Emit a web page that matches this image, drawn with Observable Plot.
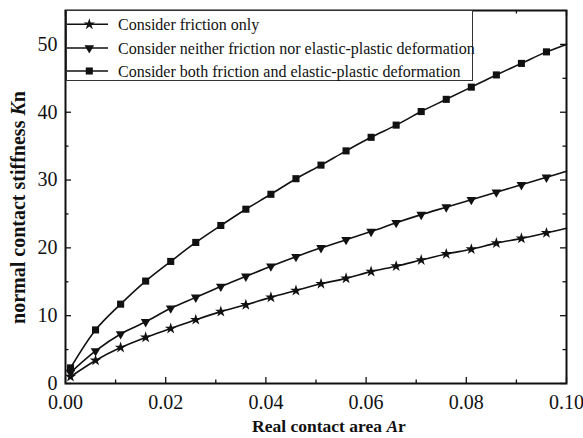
<!DOCTYPE html>
<html><head><meta charset="utf-8">
<script src="https://cdn.jsdelivr.net/npm/d3@7"></script>
<script src="https://cdn.jsdelivr.net/npm/@observablehq/plot@0.6"></script>
<style>
body{margin:0;background:#fff;}
#wrap{width:583px;height:438px;}
</style></head><body><div id="wrap"></div>
<script>
// Real contact area Ar (markers at all but the last point; the last is the line end)
const area = [0.001,0.006,0.011,0.016,0.021,0.026,0.031,0.036,0.041,0.046,0.051,0.056,0.061,0.066,0.071,0.076,0.081,0.086,0.091,0.096,0.100];
const seriesNames = [
  "Consider friction only",
  "Consider neither friction nor elastic-plastic deformation",
  "Consider both friction and elastic-plastic deformation"
];
const frictionOnly = [1.0,3.4,5.3,6.8,8.1,9.4,10.6,11.6,12.7,13.7,14.7,15.5,16.5,17.3,18.2,19.1,19.8,20.7,21.4,22.2,22.9];
const neither      = [1.6,4.8,7.3,9.1,11.1,12.7,14.3,15.8,17.3,18.7,20.0,21.2,22.4,23.7,24.9,26.0,27.1,28.2,29.3,30.4,31.3];
const both         = [2.3,7.9,11.7,15.1,18.0,20.8,23.3,25.7,27.9,30.2,32.2,34.3,36.3,38.1,40.1,41.9,43.7,45.5,47.2,48.9,50.0];
const xTickLabels = [0, 0.02, 0.04, 0.06, 0.08, 0.10];
const xMinorTicks = [0.01, 0.03, 0.05, 0.07, 0.09];
const yTickLabels = [0, 10, 20, 30, 40, 50];
const yMinorTicks = [5, 15, 25, 35, 45];

const seriesValues = [frictionOnly, neither, both];
const rows = [];
seriesValues.forEach((vals, si) => vals.forEach((v, j) => rows.push({
  series: seriesNames[si], si, x: area[j], y: v, marker: j < area.length - 1
})));

const ink = "#111";
const symDefs = [
  {symbol: "star", r: 3.6, rotate: 0, d3sym: d3.symbolStar},
  {symbol: "triangle", r: 3.6, rotate: 180, d3sym: d3.symbolTriangle},
  {symbol: "square", r: 4.0, rotate: 0, d3sym: d3.symbolSquare}
];

const serif = "'Liberation Serif','Times New Roman',Times,serif";
const W = 583, H = 438, mL = 65, mR = 17, mT = 10, mB = 55;
const plotW = W - mL - mR, plotH = H - mT - mB;
const major = 6, minor = 3.5;

const xTicks = (ticks, len) => [
  Plot.ruleX(ticks, {x: d => d, insetTop: plotH - len, stroke: ink, strokeWidth: 1.3}),
  Plot.ruleX(ticks, {x: d => d, insetBottom: plotH - len, stroke: ink, strokeWidth: 1.3})
];
const yTicks = (ticks, len) => [
  Plot.ruleY(ticks, {y: d => d, insetRight: plotW - len, stroke: ink, strokeWidth: 1.3}),
  Plot.ruleY(ticks, {y: d => d, insetLeft: plotW - len, stroke: ink, strokeWidth: 1.3})
];

const chart = Plot.plot({
  width: W, height: H,
  marginLeft: mL, marginRight: mR, marginTop: mT, marginBottom: mB,
  style: {fontFamily: serif, fontSize: "20px", color: ink, background: "white", overflow: "visible"},
  x: {domain: [0, 0.1]},
  y: {domain: [0, 55]},
  marks: [
    Plot.line(rows, {x: "x", y: "y", z: "series", curve: "catmull-rom", stroke: ink, strokeWidth: 1.6}),
    ...symDefs.map((s, i) => Plot.dot(rows.filter(d => d.marker && d.si === i), {
      x: "x", y: "y", symbol: s.symbol, r: s.r, rotate: s.rotate, fill: ink, stroke: "none"
    })),
    // tick labels
    Plot.axisX({ticks: xTickLabels, tickSize: 0, tickPadding: 11, tickFormat: d3.format(".2f"), fontSize: 20, label: null}),
    Plot.axisY({ticks: yTickLabels, tickSize: 0, tickPadding: 8, tickFormat: d3.format("d"), fontSize: 20, label: null}),
    // inward ticks on all four sides
    ...xTicks(xTickLabels, major), ...xTicks(xMinorTicks, minor),
    ...yTicks(yTickLabels, major), ...yTicks(yMinorTicks, minor),
    Plot.frame({stroke: ink, strokeWidth: 2})
  ]
});

document.getElementById("wrap").appendChild(chart);

const svg = d3.select(chart);

// axis titles
const xt = svg.append("text")
  .attr("x", 329).attr("y", 432)
  .attr("text-anchor", "middle")
  .attr("font-family", serif).attr("font-weight", "bold").attr("font-size", 17.5).attr("fill", ink);
xt.append("tspan").text("Real contact area ");
xt.append("tspan").attr("font-style", "italic").text("A");
xt.append("tspan").text("r");

const yt = svg.append("text")
  .attr("transform", "translate(25,207.5) rotate(-90)")
  .attr("text-anchor", "middle")
  .attr("font-family", serif).attr("font-weight", "bold").attr("font-size", 20).attr("fill", ink);
yt.append("tspan").text("normal contact stiffness ");
yt.append("tspan").attr("font-style", "italic").text("K");
yt.append("tspan").text("n");

// legend
const lg = svg.append("g").attr("transform", "translate(66,10)");
lg.append("rect").attr("x", 0.5).attr("y", 0.5).attr("width", 406).attr("height", 70)
  .attr("fill", "white").attr("stroke", "#333").attr("stroke-width", 1);
const rowY = [14.3, 38, 61];
seriesNames.forEach((name, i) => {
  const g = lg.append("g").attr("transform", `translate(0,${rowY[i]})`);
  g.append("line").attr("x1", 1).attr("x2", 42).attr("y1", 0).attr("y2", 0)
    .attr("stroke", ink).attr("stroke-width", 1.6);
  const s = symDefs[i];
  g.append("path")
    .attr("d", d3.symbol(s.d3sym, Math.PI * s.r * s.r)())
    .attr("transform", `translate(23.3,0) rotate(${s.rotate})`)
    .attr("fill", ink);
  g.append("text").attr("x", 52).attr("y", 5.5)
    .attr("text-anchor", "start")
    .attr("font-family", serif).attr("font-size", 16).attr("fill", ink)
    .text(name);
});
</script>
</body></html>
